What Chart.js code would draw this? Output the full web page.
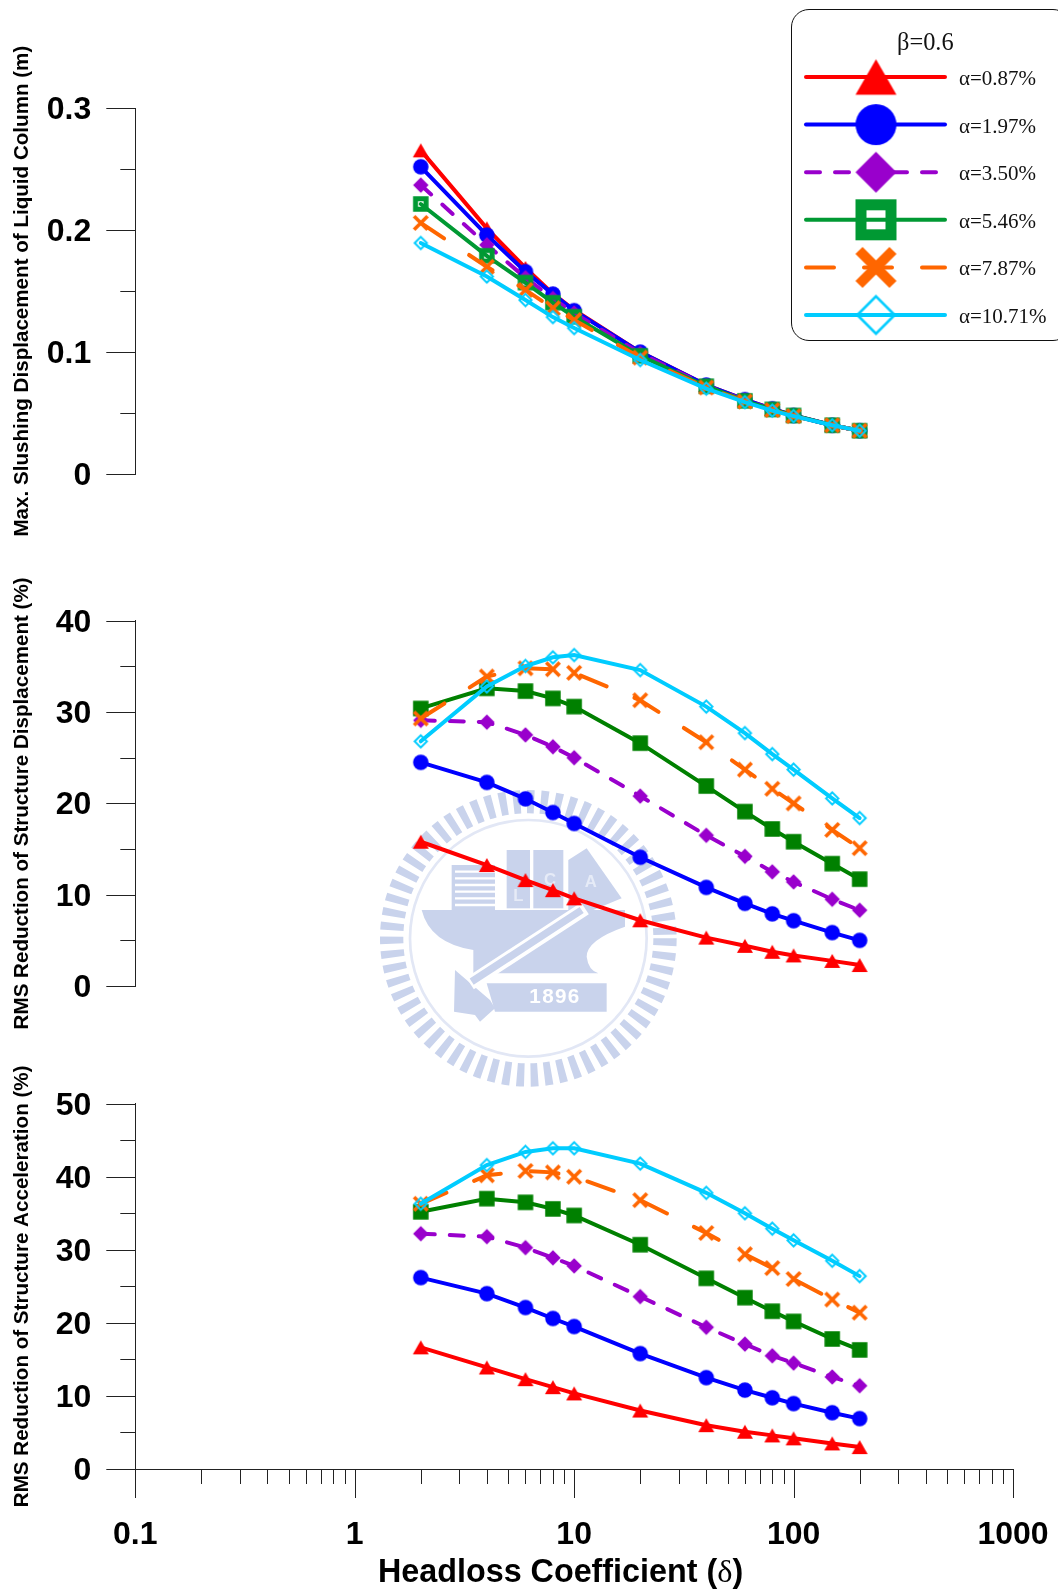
<!DOCTYPE html>
<html>
<head>
<meta charset="utf-8">
<title>Headloss coefficient</title>
<script src="https://cdn.jsdelivr.net/npm/chart.js@4/dist/chart.umd.min.js"></script>
<style>
html, body { margin: 0; padding: 0; background: #fff; }
#page { position: relative; width: 1058px; height: 1591px; overflow: hidden; }
canvas.panel { position: absolute; left: 0; }
#logo { position: absolute; left: 380px; top: 770px; filter: blur(0.6px); }
#xtitle { position: absolute; left: 378px; top: 1553px; white-space: nowrap; font: bold 32.3px "Liberation Sans", Arial, sans-serif; }
#xtitle span { font: 32.3px "Liberation Serif", serif; }
#legend { position: absolute; left: 791px; top: 9px; width: 280px; height: 332px; box-sizing: border-box; border: 1.5px solid #111; border-radius: 18px; background: #fff; }
#legend canvas { position: absolute; left: 0; top: 0; }
#legend div { position: absolute; white-space: nowrap; font-family: "Liberation Serif", serif; color: #111; }
</style>
</head>
<body>
<div id="page">
  <svg id="logo" width="320" height="320" viewBox="0 0 960 960">
    <g fill="#c9d3ec">
      <circle cx="445" cy="505" r="410" fill="none" stroke="#c9d3ec" stroke-width="70" stroke-dasharray="22 19"/>
      <circle cx="445" cy="505" r="355" fill="none" stroke="#e2e7f5" stroke-width="8"/>
      <rect x="215" y="285" width="130" height="135"/>
      <rect x="380" y="240" width="70" height="175"/>
      <rect x="460" y="240" width="90" height="175"/>
      <polygon points="565,270 620,235 725,385 640,420 565,420"/>
      <path d="M125,420 L735,420 L735,470 Q620,510 620,560 Q625,600 655,610 L280,610 L280,540 Q150,520 125,420 Z"/>
      <polygon points="225,600 330,690 345,715 300,755 285,735 222,725"/>
      <polygon points="320,640 680,640 680,725 345,725"/>
    </g>
    <g stroke="#fff" stroke-width="7">
      <path d="M225,305 H345 M225,325 H345 M225,345 H345 M225,365 H345 M225,385 H345 M225,405 H345"/>
    </g>
    <path d="M615,415 L270,640" stroke="#fff" stroke-width="42" fill="none"/>
    <path d="M605,420 L275,635" stroke="#c9d3ec" stroke-width="22" fill="none"/>
    <g fill="#fff" font-family="Liberation Sans, Arial, sans-serif" font-weight="bold">
      <text x="525" y="700" font-size="62" text-anchor="middle" letter-spacing="4">1896</text>
    </g>
    <g fill="#e6ebf7" font-family="Liberation Sans, Arial, sans-serif" font-weight="bold">
      <text x="415" y="392" font-size="50" text-anchor="middle">L</text>
      <text x="510" y="345" font-size="50" text-anchor="middle">C</text>
      <text x="632" y="352" font-size="50" text-anchor="middle">A</text>
    </g>
  </svg>
  <canvas class="panel" id="chart1" width="1058" height="540" style="top:0"></canvas>
  <canvas class="panel" id="chart2" width="1058" height="540" style="top:540px"></canvas>
  <canvas class="panel" id="chart3" width="1058" height="551" style="top:1040px"></canvas>
  <div id="xtitle">Headloss Coefficient (<span>δ</span>)</div>
  <div id="legend"></div>
</div>
<script>
const delta = [2, 4, 6, 8, 10, 20, 40, 60, 80, 100, 150, 200];
const seriesNames = ['α=0.87%', 'α=1.97%', 'α=3.50%', 'α=5.46%', 'α=7.87%', 'α=10.71%'];
const legendTitle = 'β=0.6';

// max. sloshing displacement of liquid column (m)
const sloshA087 = [0.2655, 0.2015, 0.169, 0.148, 0.1345, 0.1, 0.073, 0.061, 0.0535, 0.048, 0.04, 0.0355];
const sloshA197 = [0.252, 0.196, 0.166, 0.1476, 0.134, 0.1, 0.073, 0.061, 0.0535, 0.048, 0.04, 0.0355];
const sloshA350 = [0.237, 0.188, 0.161, 0.144, 0.132, 0.099, 0.0725, 0.0605, 0.053, 0.048, 0.04, 0.0355];
const sloshA546 = [0.2215, 0.179, 0.157, 0.1405, 0.129, 0.097, 0.072, 0.06, 0.053, 0.048, 0.04, 0.0355];
const sloshA787 = [0.206, 0.17, 0.151, 0.136, 0.1263, 0.0955, 0.071, 0.0595, 0.0525, 0.0475, 0.04, 0.0355];
const sloshA1071 = [0.1895, 0.162, 0.1427, 0.1287, 0.1197, 0.0935, 0.07, 0.059, 0.052, 0.0475, 0.04, 0.0355];

// RMS reduction of structure displacement (%)
const dispA087 = [15.8, 13.25, 11.6, 10.5, 9.6, 7.2, 5.3, 4.4, 3.75, 3.35, 2.75, 2.3];
const dispA197 = [24.5, 22.3, 20.5, 19.0, 17.8, 14.1, 10.8, 9.05, 7.9, 7.15, 5.85, 5.0];
const dispA350 = [29.1, 28.9, 27.5, 26.2, 25.0, 20.8, 16.5, 14.2, 12.5, 11.4, 9.5, 8.3];
const dispA546 = [30.4, 32.6, 32.3, 31.5, 30.6, 26.6, 21.9, 19.1, 17.2, 15.8, 13.4, 11.7];
const dispA787 = [29.3, 33.9, 34.8, 34.7, 34.3, 31.3, 26.7, 23.7, 21.6, 20.0, 17.1, 15.1];
const dispA1071 = [26.8, 32.8, 35.05, 36.0, 36.25, 34.6, 30.6, 27.7, 25.4, 23.7, 20.55, 18.4];

// RMS reduction of structure acceleration (%)
const accA087 = [16.65, 13.9, 12.3, 11.2, 10.35, 8.0, 6.0, 5.1, 4.6, 4.2, 3.5, 3.0];
const accA197 = [26.2, 24.0, 22.1, 20.6, 19.5, 15.8, 12.5, 10.8, 9.75, 8.95, 7.7, 6.9];
const accA350 = [32.2, 31.8, 30.3, 28.9, 27.8, 23.6, 19.4, 17.1, 15.5, 14.5, 12.6, 11.4];
const accA546 = [35.2, 37.0, 36.5, 35.6, 34.7, 30.7, 26.1, 23.45, 21.6, 20.2, 17.8, 16.3];
const accA787 = [36.3, 40.2, 40.8, 40.6, 40.0, 36.8, 32.3, 29.4, 27.5, 26.0, 23.2, 21.4];
const accA1071 = [36.3, 41.6, 43.4, 43.9, 43.9, 41.8, 37.8, 35.0, 32.9, 31.3, 28.5, 26.4];

const xLabels = { 0.1: '0.1', 1: '1', 10: '10', 100: '100', 1000: '1000' };
const xMajorTicks = [0.1, 1, 10, 100, 1000];
const xMinorTicks = [0.2, 0.3, 0.4, 0.5, 0.6, 0.7, 0.8, 0.9, 2, 3, 4, 5, 6, 7, 8, 9, 20, 30, 40, 50, 60, 70, 80, 90, 200, 300, 400, 500, 600, 700, 800, 900];

const fontSans = '"Liberation Sans", Arial, sans-serif';

function makeMarker(shape, w, color, lw) {
    const size = Math.ceil(w) + 6;
    const c = document.createElement('canvas');
    c.width = size;
    c.height = size;
    const ctx = c.getContext('2d');
    const m = size / 2, r = w / 2;
    ctx.fillStyle = color;
    ctx.strokeStyle = color;
    ctx.lineWidth = lw || 1;
    ctx.beginPath();
    if (shape === 'triangle') {
        const h = r * 0.86;
        ctx.moveTo(m, m - h);
        ctx.lineTo(m + r, m + h);
        ctx.lineTo(m - r, m + h);
        ctx.closePath();
        ctx.fill();
    } else if (shape === 'circle') {
        ctx.arc(m, m, r, 0, Math.PI * 2);
        ctx.fill();
    } else if (shape === 'diamond') {
        ctx.moveTo(m, m - r);
        ctx.lineTo(m + r, m);
        ctx.lineTo(m, m + r);
        ctx.lineTo(m - r, m);
        ctx.closePath();
        ctx.fill();
    } else if (shape === 'square') {
        ctx.fillRect(m - r, m - r, w, w);
    } else if (shape === 'hollowSquare') {
        ctx.strokeRect(m - r + lw / 2, m - r + lw / 2, w - lw, w - lw);
    } else if (shape === 'cross') {
        const a = r - lw * 0.35;
        ctx.moveTo(m - a, m - a);
        ctx.lineTo(m + a, m + a);
        ctx.moveTo(m + a, m - a);
        ctx.lineTo(m - a, m + a);
        ctx.stroke();
    } else if (shape === 'hollowDiamond') {
        const a = r - lw * 0.7;
        ctx.moveTo(m, m - a);
        ctx.lineTo(m + a, m);
        ctx.lineTo(m, m + a);
        ctx.lineTo(m - a, m);
        ctx.closePath();
        ctx.stroke();
    }
    return c;
}

const colors = ['#ff0000', '#0000ff', '#9900cc', '#008000', '#ff6600', '#00ccff'];
const dashes = [[], [], [14, 15], [], [28, 30], []];

function smallMarkers(greenColor, hollowSquare) {
    return [
        makeMarker('triangle', 16, colors[0]),
        makeMarker('circle', 15.5, colors[1]),
        makeMarker('diamond', 15.5, colors[2]),
        hollowSquare ? makeMarker('hollowSquare', 15.5, greenColor, 5) : makeMarker('square', 15.5, greenColor),
        makeMarker('cross', 16, colors[4], 3.6),
        makeMarker('hollowDiamond', 15, colors[5], 2)
    ];
}

function buildPanel(id, values, yMax, yStep, yMinorStep, title, areaTop, areaBottom, canvasHeight, isBottom, greenColor, hollowSquare) {
    const markers = smallMarkers(greenColor, hollowSquare);
    const datasets = values.map((v, i) => ({
        label: seriesNames[i],
        data: delta.map((d, k) => ({ x: d, y: v[k] })),
        borderColor: i === 3 ? greenColor : colors[i],
        borderWidth: 4,
        borderDash: dashes[i],
        borderCapStyle: 'round',
        pointStyle: markers[i],
        pointRadius: 8,
        tension: 0,
        fill: false,
        order: values.length - i
    }));

    const tickMarks = {
        id: 'tickMarks',
        beforeDatasetsDraw(chart) {
            const ctx = chart.ctx;
            const y = chart.scales.y;
            const x = chart.scales.x;
            ctx.save();
            ctx.strokeStyle = '#222';
            ctx.lineWidth = 1;
            ctx.beginPath();
            for (let v = 0; v <= yMax + 1e-9; v += yMinorStep) {
                const major = Math.abs(v / yStep - Math.round(v / yStep)) < 1e-6;
                const py = Math.round(y.getPixelForValue(v)) + 0.5;
                ctx.moveTo(y.right, py);
                ctx.lineTo(y.right - (major ? 29 : 15), py);
            }
            if (isBottom) {
                xMajorTicks.forEach(t => {
                    const px = Math.round(x.getPixelForValue(t)) + 0.5;
                    ctx.moveTo(px, x.top);
                    ctx.lineTo(px, x.top + 29);
                });
                xMinorTicks.forEach(t => {
                    const px = Math.round(x.getPixelForValue(t)) + 0.5;
                    ctx.moveTo(px, x.top);
                    ctx.lineTo(px, x.top + 15);
                });
            }
            ctx.stroke();
            ctx.restore();
        }
    };

    new Chart(document.getElementById(id), {
        type: 'line',
        data: { datasets },
        plugins: [tickMarks],
        options: {
            responsive: false,
            animation: false,
            layout: { padding: { top: areaTop, right: 45, bottom: isBottom ? 0 : canvasHeight - areaBottom, left: 0 } },
            plugins: { legend: { display: false }, tooltip: { enabled: false } },
            scales: {
                x: {
                    type: 'logarithmic',
                    min: 0.1,
                    max: 1000,
                    display: isBottom,
                    afterFit: s => {
                        if (isBottom) s.height = canvasHeight - areaBottom;
                        s.paddingLeft = 0;
                        s.paddingRight = 0;
                    },
                    grid: { display: false, drawTicks: false },
                    border: { display: true, color: '#222', width: 1 },
                    ticks: {
                        autoSkip: false,
                        maxRotation: 0,
                        padding: 47,
                        color: '#000',
                        font: { family: fontSans, size: 32, weight: 'bold' },
                        callback: v => {
                            const near = xMajorTicks.find(t => Math.abs(v / t - 1) < 1e-6);
                            return near === undefined ? '' : xLabels[near];
                        }
                    }
                },
                y: {
                    min: 0,
                    max: yMax,
                    afterFit: s => { s.width = 135.3; },
                    grid: { display: false, drawTicks: false },
                    border: { display: true, color: '#222', width: 1 },
                    title: {
                        display: true,
                        text: title,
                        color: '#000',
                        padding: { top: 10, bottom: 0 },
                        font: { family: fontSans, size: 20.6, weight: 'bold' }
                    },
                    ticks: {
                        stepSize: yStep,
                        padding: 44,
                        labelOffset: 2,
                        color: '#000',
                        font: { family: fontSans, size: 32, weight: 'bold' }
                    }
                }
            }
        }
    });
}

buildPanel('chart1', [sloshA087, sloshA197, sloshA350, sloshA546, sloshA787, sloshA1071],
    0.3, 0.1, 0.05, 'Max. Slushing Displacement of Liquid Column (m)', 108.3, 474, 540, false, '#009933', true);
buildPanel('chart2', [dispA087, dispA197, dispA350, dispA546, dispA787, dispA1071],
    40, 10, 5, 'RMS Reduction of Structure Displacement (%)', 80.8, 446, 540, false, '#008000', false);
buildPanel('chart3', [accA087, accA197, accA350, accA546, accA787, accA1071],
    50, 10, 5, 'RMS Reduction of Structure Acceleration (%)', 63.7, 429, 551, true, '#008000', false);

// legend box
const legend = document.getElementById('legend');
const lc = document.createElement('canvas');
lc.width = 280;
lc.height = 332;
legend.appendChild(lc);
const lctx = lc.getContext('2d');
const legendColors = ['#ff0000', '#0000ff', '#9900cc', '#009933', '#ff6600', '#00ccff'];
const legendMarkers = [
    makeMarker('triangle', 41, legendColors[0]),
    makeMarker('circle', 41, legendColors[1]),
    makeMarker('diamond', 41, legendColors[2]),
    makeMarker('hollowSquare', 41, legendColors[3], 11),
    makeMarker('cross', 41, legendColors[4], 10),
    makeMarker('hollowDiamond', 41, legendColors[5], 2.6)
];
seriesNames.forEach((name, i) => {
    const rowY = 67 + i * 47.6;
    lctx.save();
    lctx.strokeStyle = legendColors[i];
    lctx.lineWidth = 4;
    lctx.lineCap = 'round';
    lctx.setLineDash(dashes[i]);
    lctx.beginPath();
    lctx.moveTo(14, rowY);
    lctx.lineTo(153, rowY);
    lctx.stroke();
    lctx.restore();
    const mk = legendMarkers[i];
    lctx.drawImage(mk, 84 - mk.width / 2, rowY - mk.height / 2);
    const label = document.createElement('div');
    label.textContent = name;
    label.style.cssText = 'left:167px;top:' + (rowY - 11) + 'px;font-size:21px;line-height:24px;';
    legend.appendChild(label);
});
const lt = document.createElement('div');
lt.textContent = legendTitle;
lt.style.cssText = 'left:105px;top:18px;font-size:24.4px;line-height:28px;';
legend.appendChild(lt);
</script>
</body>
</html>
